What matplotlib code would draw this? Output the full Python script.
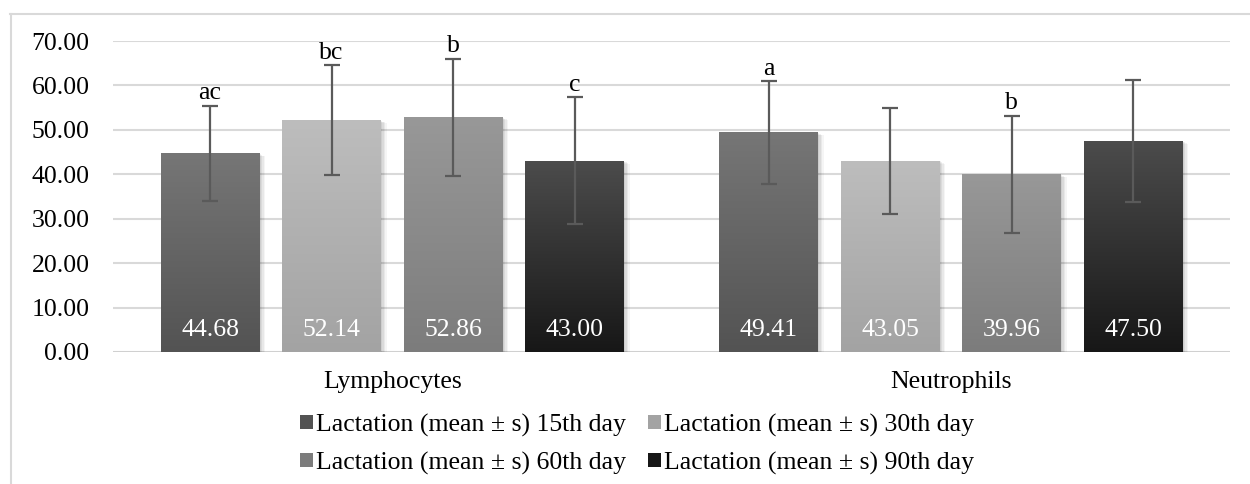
import matplotlib
matplotlib.use("Agg")
import matplotlib.pyplot as plt
import matplotlib.patheffects as pe
import numpy as np
from matplotlib.colors import LinearSegmentedColormap

plt.rcParams['font.family'] = ['Liberation Serif', 'DejaVu Serif']

categories = ["Lymphocytes", "Neutrophils"]
series_names = ["Lactation (mean ± s) 15th day", "Lactation (mean ± s) 30th day",
                "Lactation (mean ± s) 60th day", "Lactation (mean ± s) 90th day"]
means = [[44.68, 49.41], [52.14, 43.05], [52.86, 39.96], [43.00, 47.50]]
errors = [[10.8, 11.6], [12.4, 11.9], [13.2, 13.2], [14.3, 13.8]]
letters = [["ac", "a"], ["bc", ""], ["b", "b"], ["c", ""]]
yticks = [0, 10, 20, 30, 40, 50, 60, 70]

top_cols = ["#767676", "#bdbdbd", "#989898", "#4c4c4c"]
bot_cols = ["#535353", "#a3a3a3", "#7c7c7c", "#171717"]

FS = 18.5

fig = plt.figure(figsize=(12.5, 4.84), dpi=100)
# outer frame lines
fig.add_artist(plt.Line2D([10.5/1250, 10.5/1250], [0, 1-14/484], color="#d9d9d9", lw=1.5, transform=fig.transFigure))
fig.add_artist(plt.Line2D([10/1250, 1], [1-14/484, 1-14/484], color="#d9d9d9", lw=1.5, transform=fig.transFigure))

ax = fig.add_axes([113/1250, 1-352/484, (1230-113)/1250, (352-41)/484])
ax.set_ylim(0, 70)
ax.set_xlim(-0.5, 1.5)
ax.set_yticks(yticks)
ax.set_yticklabels([f"{v:.2f}" for v in yticks], fontsize=FS)
ax.tick_params(axis='y', length=0, pad=17)
ax.tick_params(axis='x', length=0, pad=14)
x = np.arange(len(categories))
ax.set_xticks(x)
ax.set_xticklabels(categories, fontsize=FS)
for s in ax.spines.values():
    s.set_visible(False)
ax.grid(axis='y', color="#d9d9d9", lw=1.5, zorder=0)
ax.set_axisbelow(True)
ax.axhline(0, color="#d0d0d0", lw=2, zorder=1)

width = 99/558.5
step = 121.5/558.5
shadow = [pe.SimplePatchShadow(offset=(o, -o*0.5), shadow_rgbFace="#000000", alpha=a)
          for o, a in [(4.0, 0.04), (3.0, 0.05), (2.0, 0.06), (1.0, 0.06)]]
handles = []
for i in range(4):
    pos = x + (i - 1.5) * step
    bars = ax.bar(pos, means[i], width, color=bot_cols[i], zorder=2, label=series_names[i],
                  path_effects=shadow + [pe.Normal()])
    cmap = LinearSegmentedColormap.from_list("g%d" % i, [bot_cols[i], top_cols[i]])
    grad = np.linspace(0, 1, 256).reshape(-1, 1)
    for b in bars:
        x0, y0, w, h = b.get_x(), b.get_y(), b.get_width(), b.get_height()
        im = ax.imshow(grad, extent=[x0, x0 + w, y0, y0 + h], origin='lower', cmap=cmap,
                       aspect='auto', zorder=2.1)
        im.set_clip_path(b)
    handles.append(bars)
    ax.errorbar(pos, means[i], yerr=errors[i], fmt='none', ecolor="#5a5a5a", elinewidth=1.6,
                capsize=6, capthick=1.6, zorder=3)
    for j in range(len(categories)):
        ax.text(pos[j], 4.9, f"{means[i][j]:.2f}", ha='center', va='center', color='white',
                fontsize=FS, zorder=4)
        if letters[i][j]:
            ax.text(pos[j], means[i][j] + errors[i][j] + 0.3, letters[i][j], ha='center',
                    va='bottom', fontsize=FS, zorder=4)
ax.set_ylim(0, 70)
ax.set_xlim(-0.5, 1.5)

order = [0, 2, 1, 3]
leg = fig.legend([handles[k] for k in order], [series_names[k] for k in order], ncol=2,
                 loc='center', bbox_to_anchor=(637/1250, 1-444/484), frameon=False,
                 fontsize=FS, handlelength=0.5, handleheight=0.5, handletextpad=0.12,
                 columnspacing=0.85, labelspacing=0.58, borderpad=0.1)
for h, k in zip(leg.legend_handles, order):
    h.set_facecolor(bot_cols[k])
    h.set_path_effects([])

fig.savefig("out.png", dpi=100)
